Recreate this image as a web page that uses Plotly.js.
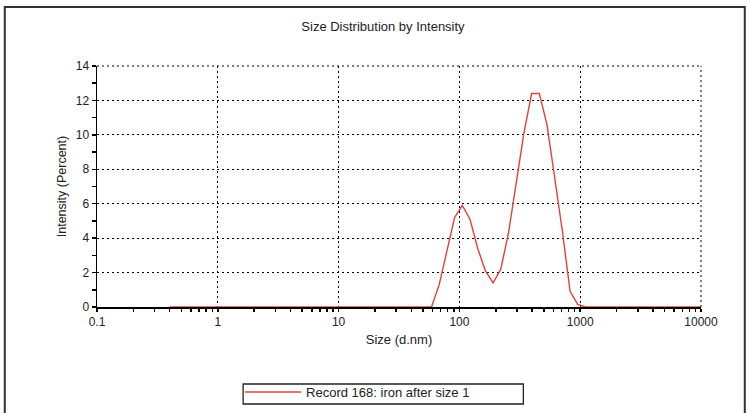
<!DOCTYPE html>
<html>
<head>
<meta charset="utf-8">
<script src="https://cdn.plot.ly/plotly-3.0.1.min.js"></script>
<style>
html,body{margin:0;padding:0;background:#fff;}
#chart{width:747px;height:413px;}
</style>
</head>
<body>
<div id="chart"></div>
<script>
// Size bins (d.nm)
var sizes = [0.4000, 0.4632, 0.5365, 0.6213, 0.7195, 0.8332, 0.9649, 1.117, 1.294, 1.499,
  1.736, 2.010, 2.328, 2.696, 3.122, 3.615, 4.187, 4.849, 5.615, 6.503,
  7.531, 8.721, 10.10, 11.70, 13.54, 15.69, 18.17, 21.04, 24.36, 28.21,
  32.67, 37.84, 43.82, 50.75, 58.77, 68.06, 78.82, 91.28, 105.7, 122.4,
  141.8, 164.2, 190.1, 220.2, 255.0, 295.3, 342.0, 396.1, 458.7, 531.2,
  615.1, 712.4, 825.0, 955.4, 1106, 1281, 1484, 1718, 1990, 2305,
  2669, 3091, 3580, 4145, 4801, 5560, 6439, 7456, 8635, 10000];
// Intensity (Percent)
var intensity = [0, 0, 0, 0, 0, 0, 0, 0, 0, 0,
  0, 0, 0, 0, 0, 0, 0, 0, 0, 0,
  0, 0, 0, 0, 0, 0, 0, 0, 0, 0,
  0, 0, 0, 0, 0, 1.3, 3.3, 5.2, 5.9, 5.1,
  3.4, 2.1, 1.4, 2.2, 4.3, 7.3, 10.1, 12.4, 12.4, 10.6,
  7.5, 4.4, 0.9, 0.15, 0, 0, 0, 0, 0, 0,
  0, 0, 0, 0, 0, 0, 0, 0, 0, 0];
var seriesName = "Record 168: iron after size 1";
var chartTitle = "Size Distribution by Intensity";
var xTitle = "Size (d.nm)";
var yTitle = "Intensity (Percent)";
var xTickVals = [0.1, 1, 10, 100, 1000, 10000];
var xTickText = ["0.1", "1", "10", "100", "1000", "10000"];

var FONT = "Liberation Sans, Arial, sans-serif";
var TXT = "#222";
var GRIDDASH = "2px,3px";

var trace = {
  x: sizes, y: intensity, type: "scatter", mode: "lines",
  name: seriesName,
  line: {color: "#e5403e", width: 1.4},
  showlegend: true
};

var layout = {
  width: 747, height: 413,
  margin: {l: 97, r: 46, t: 66, b: 106, autoexpand: false},
  paper_bgcolor: "#ffffff", plot_bgcolor: "#ffffff",
  font: {family: FONT, size: 12, color: TXT},
  title: {text: chartTitle, x: 0.5127, xanchor: "center", y: 0.935, yanchor: "middle",
          font: {family: FONT, size: 13, color: TXT}},
  xaxis: {
    type: "log", range: [-1, 4],
    tickvals: xTickVals, ticktext: xTickText,
    showline: true, linecolor: "#000", linewidth: 1.5, layer: "below traces",
    ticks: "outside", ticklen: 3, tickcolor: "#000", tickwidth: 1.5,
    showgrid: true, gridcolor: "#000", gridwidth: 1, griddash: GRIDDASH,
    zeroline: false,
    minor: {dtick: "D1", ticks: "outside", ticklen: 3, tickcolor: "#000", tickwidth: 1.5, showgrid: false},
    title: {text: xTitle, standoff: 7, font: {family: FONT, size: 13, color: TXT}},
    tickfont: {family: FONT, size: 12, color: TXT}
  },
  yaxis: {
    range: [0, 14], dtick: 2, tick0: 0,
    showline: true, linecolor: "#000", linewidth: 1.5, layer: "below traces",
    ticks: "outside", ticklen: 4, tickcolor: "#000", tickwidth: 1.5,
    showgrid: true, gridcolor: "#000", gridwidth: 1, griddash: GRIDDASH,
    zeroline: false,
    minor: {dtick: 1, ticks: "outside", ticklen: 4, tickcolor: "#000", tickwidth: 1.5, showgrid: false},
    title: {text: yTitle, standoff: 6, font: {family: FONT, size: 12.5, color: TXT}},
    tickfont: {family: FONT, size: 12, color: TXT}
  },
  showlegend: true,
  legend: {
    x: 0.2369, xanchor: "left", y: -0.2905, yanchor: "top",
    borderwidth: 0, bgcolor: "rgba(0,0,0,0)",
    font: {family: FONT, size: 13, color: TXT},
    tracegroupgap: 0, itemwidth: 56
  },
  shapes: [
    {type: "rect", xref: "paper", yref: "paper",
     x0: -0.1527, x1: 1.0725, y0: -0.5, y1: 1.245,
     line: {color: "#333", width: 2}, fillcolor: "rgba(0,0,0,0)", layer: "below"},
    {type: "line", xref: "paper", yref: "paper", x0: 0, x1: 1, y0: 1, y1: 1,
     line: {color: "#000", width: 1, dash: GRIDDASH}, layer: "below"},
    {type: "line", xref: "paper", yref: "paper", x0: 1, x1: 1, y0: 0, y1: 1,
     line: {color: "#000", width: 1, dash: GRIDDASH}, layer: "below"},
    {type: "rect", xref: "paper", yref: "paper",
     x0: 0.2419, x1: 0.7059, y0: -0.4025, y1: -0.3195,
     line: {color: "#222", width: 1.3}, fillcolor: "rgba(0,0,0,0)", layer: "below"}
  ]
};

Plotly.newPlot("chart", [trace], layout, {displayModeBar: false, staticPlot: true});
</script>
</body>
</html>
